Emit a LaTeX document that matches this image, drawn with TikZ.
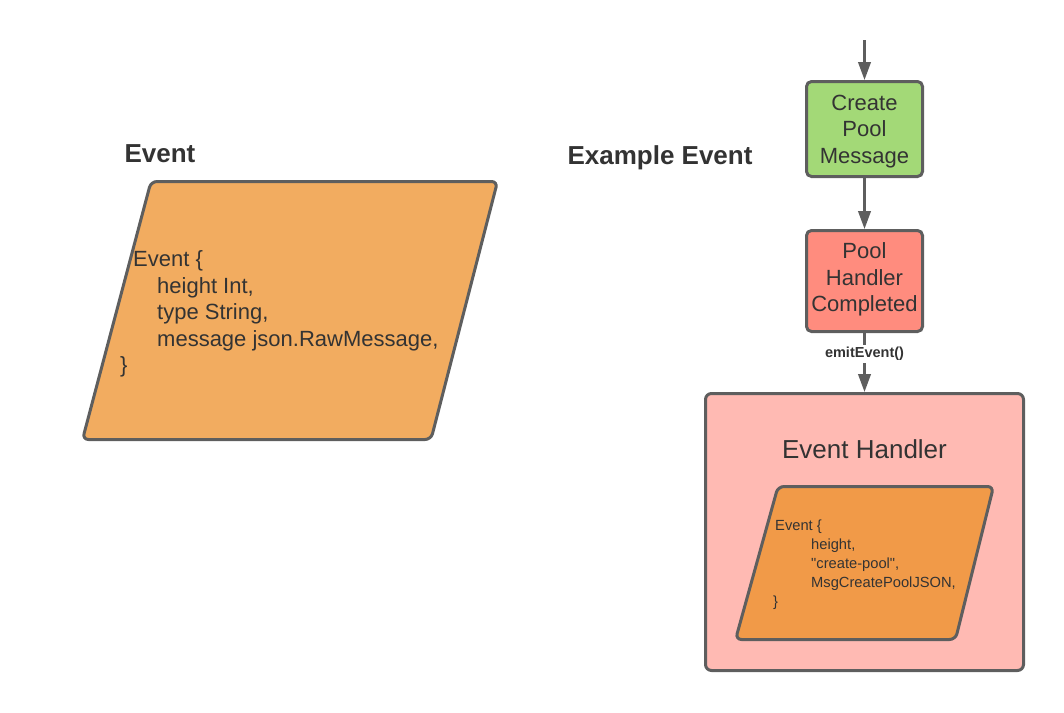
\documentclass[tikz,border=0pt]{standalone}
\usepackage{fontspec}
\setmainfont{Liberation Sans}
\newfontfamily\codefont{Liberation Sans}[Ligatures=TeXOff]
\usetikzlibrary{arrows.meta}

\definecolor{edgegray}{HTML}{5E5E5E}
\definecolor{textgray}{HTML}{333333}
\definecolor{lightorange}{HTML}{F2AC60}
\definecolor{darkorange}{HTML}{F19A48}
\definecolor{msggreen}{HTML}{A3D977}
\definecolor{handlerred}{HTML}{FF8C7E}
\definecolor{handlerpink}{HTML}{FFBAB3}

\tikzset{
  stepbox/.style={shape=rectangle,draw=edgegray,line width=3pt,rounded corners=5pt,text=textgray,inner sep=0pt,minimum width=116pt,font=\fontsize{22}{26.5}\selectfont},
  datashape/.style={draw=edgegray,line width=3pt,rounded corners=6pt},
  title/.style={text=textgray,font=\fontsize{26}{30}\selectfont\bfseries,inner sep=0pt},
  flow/.style={-{Triangle[length=18pt,width=12.5pt]},draw=edgegray,line width=2.5pt},
}

\begin{document}
\begin{tikzpicture}[x=1pt,y=-1pt]
\useasboundingbox (0,0) rectangle (1064,712);

% left side: the event type
\node[title] (eventtitle) at (160,154) {Event};
\path[datashape,fill=lightorange] (151,181.5) -- (497.5,181.5) -- (431,439.5) -- (82.5,439.5) -- cycle;
\node[anchor=west,text=textgray,align=left,inner sep=0pt,font=\fontsize{22}{26.5}\selectfont] (eventbody) at (120,314)
  {\hspace*{13pt}Event \{\\ \hspace*{37pt}height Int,\\ \hspace*{37pt}type String,\\ \hspace*{37pt}message json.RawMessage,\\ \}};

% right side: the example flow
\node[title] (exampletitle) at (660,157.5) {Example Event};
\coordinate (entry) at (864.5,40);
\node[stepbox,fill=msggreen,minimum height=95pt] (create) at (864.5,129)
  {\raisebox{-2.5pt}[\height][\depth]{\parbox{110pt}{\centering Create\\Pool\\Message}}};
\node[stepbox,fill=handlerred,minimum height=101pt] (pool) at (864.5,281)
  {\raisebox{1.5pt}[\height][\depth]{\parbox{110pt}{\centering Pool\\Handler\\Completed}}};
\node[shape=rectangle,draw=edgegray,fill=handlerpink,line width=3pt,rounded corners=6pt,minimum width=318pt,minimum height=277pt] (handler) at (864.5,532) {};
\node[text=textgray,font=\fontsize{26}{30}\selectfont] (handlertitle) at (864.5,449) {Event Handler};
\path[datashape,fill=darkorange] (778,486.5) -- (993.5,486.5) -- (955.5,639.5) -- (735.5,639.5) -- cycle;
\node[anchor=west,text=textgray,align=left,inner sep=0pt,font=\codefont\fontsize{14.7}{19}\selectfont] (examplebody) at (773,565)
  {\hspace*{2pt}Event \{\\ \hspace*{38pt}height,\\ \hspace*{38pt}"create-pool",\\ \hspace*{38pt}MsgCreatePoolJSON,\\ \}};

\path (entry) edge[flow] (create);
\path (create) edge[flow] (pool);
\path (pool) edge[flow] node[pos=0.36,fill=white,text=textgray,inner sep=2pt,font=\fontsize{14.5}{17}\selectfont\bfseries] {emitEvent()} (handler);
\end{tikzpicture}
\end{document}
